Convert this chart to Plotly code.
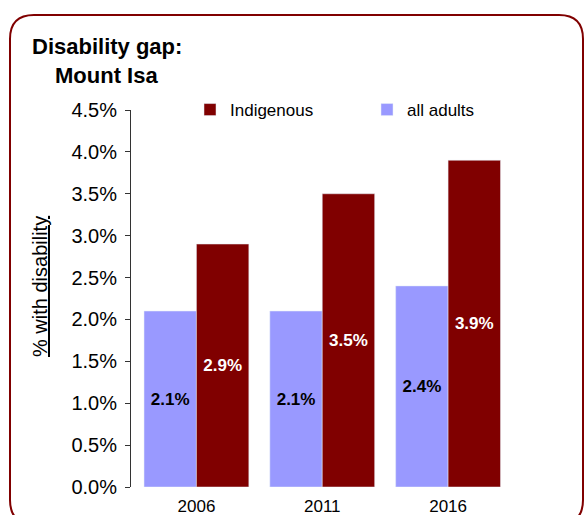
import plotly.graph_objects as go

years = ["2006", "2011", "2016"]
all_adults = [2.1, 2.1, 2.4]
indigenous = [2.9, 3.5, 3.9]
y_ticks = [0, 0.5, 1.0, 1.5, 2.0, 2.5, 3.0, 3.5, 4.0, 4.5]

W, H = 586, 515
ML, MR, MT, MB = 131, 75, 110, 28
PW, PH = W - ML - MR, H - MT - MB

def px(x):
    return (x - ML) / PW

def py(y):
    return (H - MB - y) / PH

FONT = "Liberation Sans, Arial, sans-serif"
DARK = "#800000"
LIGHT = "#9999FF"

fig = go.Figure()
fig.add_trace(go.Bar(
    x=years, y=all_adults, name="all adults", marker_color=LIGHT,
    text=[f"{v:.1f}%" for v in all_adults], textposition="inside",
    insidetextanchor="middle", textangle=0,
    insidetextfont=dict(family=FONT, size=17, color="black", weight="bold"),
))
fig.add_trace(go.Bar(
    x=years, y=indigenous, name="Indigenous", marker_color=DARK,
    text=[f"{v:.1f}%" for v in indigenous], textposition="inside",
    insidetextanchor="middle", textangle=0,
    insidetextfont=dict(family=FONT, size=17, color="white", weight="bold"),
))

# rounded border
l, r, t, b, rad = 10, 583, 15, 524, 24
path = (f"M {px(l)},{py(t+rad)} "
        f"Q {px(l)},{py(t)} {px(l+rad)},{py(t)} "
        f"L {px(r-rad)},{py(t)} "
        f"Q {px(r)},{py(t)} {px(r)},{py(t+rad)} "
        f"L {px(r)},{py(b-rad)} "
        f"Q {px(r)},{py(b)} {px(r-rad)},{py(b)} "
        f"L {px(l+rad)},{py(b)} "
        f"Q {px(l)},{py(b)} {px(l)},{py(b-rad)} Z")
fig.add_shape(type="path", path=path, xref="paper", yref="paper",
              line=dict(color=DARK, width=2), fillcolor="rgba(0,0,0,0)")

fig.add_annotation(x=px(30), y=py(47), xref="paper", yref="paper",
                   text="<b>Disability gap:</b>", showarrow=False,
                   xanchor="left", yanchor="middle",
                   font=dict(family=FONT, size=22, color="black"))
fig.add_annotation(x=px(53), y=py(75), xref="paper", yref="paper",
                   text="<b>Mount Isa</b>", showarrow=False,
                   xanchor="left", yanchor="middle",
                   font=dict(family=FONT, size=22, color="black"))
fig.add_annotation(x=px(40), y=py(287), xref="paper", yref="paper",
                   text="<u>% with disability</u>", showarrow=False,
                   textangle=-90, xanchor="center", yanchor="middle",
                   font=dict(family=FONT, size=20, color="black"))

fig.update_layout(
    width=W, height=H,
    margin=dict(l=ML, r=MR, t=MT, b=MB, pad=0, autoexpand=False),
    paper_bgcolor="white", plot_bgcolor="white",
    barmode="group", bargap=0.167, bargroupgap=0,
    font=dict(family=FONT, color="black"),
    showlegend=True,
    legend=dict(orientation="h", traceorder="reversed",
                x=px(190), y=py(110), xanchor="left", yanchor="middle",
                entrywidth=132, entrywidthmode="pixels",
                font=dict(family=FONT, size=17, color="black"),
                bgcolor="rgba(0,0,0,0)"),
    xaxis=dict(type="category", range=[-0.52, 2.5], showline=False,
               ticks="", showgrid=False, zeroline=False, automargin=False,
               ticklabelstandoff=7,
               tickfont=dict(family=FONT, size=17, color="black")),
    yaxis=dict(range=[0, 4.5], tickvals=y_ticks,
               ticktext=[f"{v:.1f}%" for v in y_ticks],
               showline=True, linecolor="#333", linewidth=1,
               ticks="outside", ticklen=5, tickcolor="#333",
               ticklabelstandoff=4, automargin=False,
               showgrid=False, zeroline=False,
               tickfont=dict(family=FONT, size=20, color="black")),
)

fig.write_html("out.html", config={"displayModeBar": False},
               post_script="document.body.style.margin='0px';document.body.style.overflow='hidden';")
